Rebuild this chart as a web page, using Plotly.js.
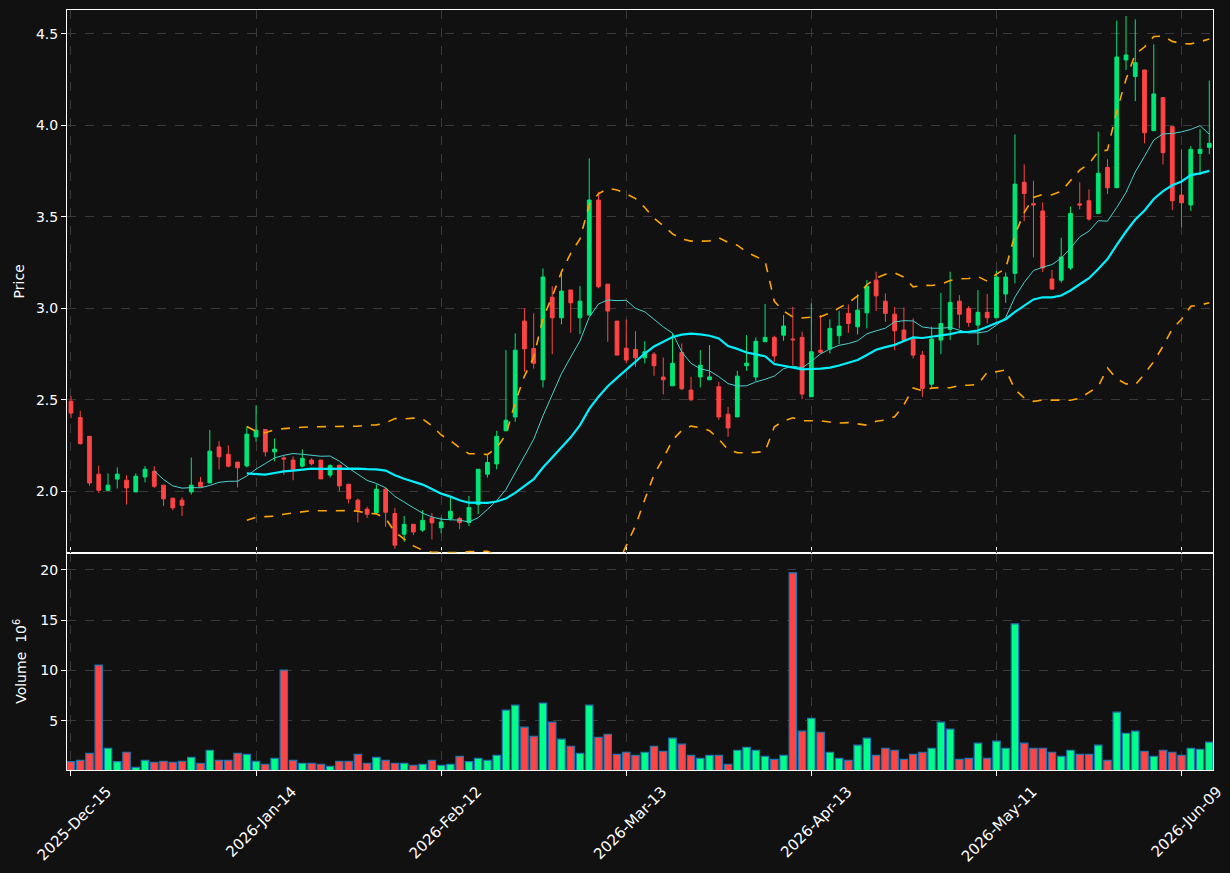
<!DOCTYPE html>
<html>
<head>
<meta charset="utf-8">
<script src="https://cdn.plot.ly/plotly-3.0.1.min.js"></script>
<style>html,body{margin:0;padding:0;background:#111111;}#chart{width:1230px;height:873px;}</style>
</head>
<body>
<div id="chart"></div>
<script>
// ---- trading calendar (categories) ----
const startDate = '2025-12-15';
const nBars = 124;
const holidays = ['2025-12-25','2026-01-01','2026-01-19','2026-02-16','2026-04-03','2026-05-25'];

const open = [2.492,2.403,2.30,2.093,2.005,2.066,2.06,1.996,2.078,2.109,
2.033,1.962,1.951,1.996,2.049,2.045,2.242,2.202,2.159,2.138,
2.297,2.337,2.215,2.182,2.17,2.137,2.17,2.17,2.088,2.142,
2.038,1.951,1.902,1.883,2.011,1.878,1.765,1.819,1.787,1.854,
1.80,1.851,1.851,1.829,1.927,2.093,2.149,2.33,2.406,2.93,
2.78,2.609,3.061,2.948,3.10,2.948,2.963,3.592,3.132,2.93,
2.782,2.775,2.729,2.749,2.624,2.576,2.759,2.553,2.625,2.609,
2.571,2.421,2.406,2.686,2.624,2.817,2.841,2.853,2.832,2.841,
2.516,2.771,2.777,2.85,2.972,2.899,2.975,3.154,3.039,2.968,
2.881,2.832,2.744,2.585,2.826,2.885,3.039,2.999,2.908,2.978,
2.948,3.078,3.191,3.689,3.572,3.532,3.16,3.154,3.22,3.571,
3.588,3.519,3.77,3.659,4.358,4.267,4.303,3.971,4.152,3.993,
3.619,3.565,3.847,3.88];
const high = [2.52,2.44,2.30,2.14,2.097,2.13,2.087,2.097,2.137,2.137,
2.033,1.962,1.966,2.184,2.078,2.334,2.274,2.25,2.159,2.352,
2.47,2.337,2.288,2.195,2.19,2.228,2.18,2.17,2.147,2.142,
2.038,1.96,1.915,2.038,2.02,1.909,1.865,1.819,1.896,1.881,
1.86,1.969,1.86,1.974,2.12,2.197,2.33,2.771,2.863,3.0,
2.972,3.218,3.121,3.194,3.10,3.121,3.82,3.637,3.132,2.93,
2.939,2.875,2.82,2.76,2.731,2.863,2.808,2.625,2.771,2.799,
2.598,2.461,2.658,2.853,2.841,3.023,2.85,2.963,3.008,2.872,
3.027,2.963,2.939,2.986,3.021,3.076,3.154,3.20,3.081,3.008,
3.005,2.945,2.767,2.90,3.085,3.20,3.072,3.012,3.10,3.078,
3.204,3.196,3.951,3.787,3.697,3.579,3.21,3.386,3.556,3.689,
3.65,3.966,3.815,4.573,4.598,4.58,4.303,4.443,4.152,3.993,
3.869,3.887,3.979,4.245];
const low = [2.40,2.255,2.03,1.99,2.005,2.015,1.927,1.996,2.048,2.018,
1.92,1.896,1.865,1.982,2.024,2.045,2.119,2.13,2.02,2.13,
2.27,2.19,2.164,2.09,2.06,2.13,2.14,2.067,2.075,2.0,
1.933,1.829,1.854,1.883,1.805,1.686,1.723,1.76,1.777,1.736,
1.77,1.84,1.792,1.81,1.874,2.075,2.119,2.33,2.38,2.653,
2.67,2.567,2.749,2.912,2.866,2.859,2.963,3.109,2.817,2.744,
2.699,2.68,2.699,2.631,2.529,2.576,2.553,2.492,2.567,2.609,
2.39,2.297,2.406,2.658,2.602,2.817,2.707,2.822,2.689,2.503,
2.516,2.755,2.753,2.804,2.866,2.857,2.89,2.985,2.926,2.771,
2.817,2.726,2.516,2.567,2.749,2.826,2.89,2.899,2.799,2.917,
2.948,3.03,3.136,3.477,3.278,3.198,3.10,3.14,3.21,3.541,
3.479,3.519,3.625,3.659,4.303,4.133,3.902,3.971,3.787,3.537,
3.443,3.532,3.729,3.843];
const close = [2.427,2.26,2.045,2.005,2.033,2.093,2.018,2.082,2.12,2.027,
1.958,1.909,1.923,2.033,2.024,2.219,2.188,2.137,2.128,2.312,
2.334,2.215,2.23,2.176,2.119,2.179,2.15,2.067,2.14,2.029,
1.958,1.896,1.874,2.011,1.885,1.705,1.819,1.777,1.841,1.827,
1.832,1.89,1.829,1.911,2.12,2.157,2.30,2.388,2.771,2.778,
2.699,3.171,2.948,3.094,3.03,3.039,3.592,3.118,2.985,2.744,
2.717,2.729,2.762,2.686,2.609,2.699,2.56,2.50,2.689,2.625,
2.406,2.346,2.629,2.70,2.82,2.841,2.739,2.903,2.828,2.531,
2.762,2.759,2.89,2.903,2.917,2.99,3.121,3.068,2.972,2.877,
2.826,2.744,2.562,2.832,2.917,3.032,2.968,2.923,2.978,2.948,
3.171,3.171,3.679,3.628,3.565,3.22,3.105,3.28,3.519,3.565,
3.488,3.738,3.659,4.374,4.385,4.343,3.96,4.172,3.851,3.588,
3.577,3.869,3.869,3.902];
// volume in millions
const volume = [0.95,1.08,1.78,10.54,2.28,0.95,1.88,0.39,1.08,0.89,
0.99,0.89,0.99,1.38,0.79,2.08,1.08,1.08,1.78,1.68,
0.99,0.69,1.28,10.04,1.08,0.79,0.79,0.69,0.49,0.99,
0.99,1.68,0.79,1.38,1.08,0.79,0.79,0.59,0.69,1.08,
0.59,0.69,1.48,0.95,1.28,1.08,1.58,6.06,6.56,4.37,
3.47,6.76,4.87,3.18,2.48,1.78,6.56,3.37,3.67,1.68,
1.88,1.58,1.88,2.48,1.98,3.28,2.68,1.58,1.28,1.58,
1.58,0.69,2.08,2.38,2.08,1.48,1.18,1.58,19.7,3.97,
5.26,3.87,1.88,1.28,1.08,2.58,3.28,1.58,2.28,2.08,
1.18,1.68,1.88,2.28,4.87,4.17,1.18,1.28,2.78,1.28,
2.98,2.28,14.62,2.78,2.28,2.28,1.88,1.48,2.08,1.68,
1.68,2.58,1.08,5.86,3.77,3.97,1.98,1.48,2.08,1.88,
1.58,2.28,2.18,2.88];

const upColor = '#00e676', downColor = '#ff4444';
const volUp = '#00ff88', volDown = '#ff4444';
const monthNames = ['Jan','Feb','Mar','Apr','May','Jun','Jul','Aug','Sep','Oct','Nov','Dec'];

// build trading dates
function iso(d){return d.toISOString().slice(0,10);}
const dates = [];
{
  let d = new Date(startDate + 'T00:00:00Z');
  while (dates.length < nBars) {
    const wd = d.getUTCDay();
    const s = iso(d);
    if (wd !== 0 && wd !== 6 && holidays.indexOf(s) < 0) dates.push(s);
    d = new Date(d.getTime() + 86400000);
  }
}
function fmt(s){const p=s.split('-');return p[0]+'-'+monthNames[parseInt(p[1],10)-1]+'-'+p[2];}
const tickDates = dates.filter((d,i)=> i % 20 === 0);
const tickLabels = tickDates.map(fmt);

function sma(arr,n){return arr.map((v,i)=>{if(i<n-1)return null;let s=0;for(let k=i-n+1;k<=i;k++)s+=arr[k];return s/n;});}
function bands(arr,n,m){
  const ma = sma(arr,n);
  const up=[],lo=[];
  arr.forEach((v,i)=>{
    if(i<n-1){up.push(null);lo.push(null);return;}
    let s=0;for(let k=i-n+1;k<=i;k++)s+=(arr[k]-ma[i])**2;
    const sd=Math.sqrt(s/n);
    up.push(ma[i]+m*sd);lo.push(ma[i]-m*sd);
  });
  return {up,lo};
}
const ma10 = sma(close,10), ma20 = sma(close,20);
const bb = bands(close,20,2);
const volColors = close.map((c,i)=> c >= open[i] ? volUp : volDown);

const traces = [
  {type:'bar', x:dates, y:volume, xaxis:'x', yaxis:'y', width:0.8,
   marker:{color:volColors, line:{color:'#1f77b4', width:1.2}}, hoverinfo:'skip', showlegend:false},
  {type:'candlestick', x:dates, open:open, high:high, low:low, close:close, xaxis:'x', yaxis:'y2',
   increasing:{line:{color:upColor,width:1}, fillcolor:upColor},
   decreasing:{line:{color:downColor,width:1}, fillcolor:downColor},
   whiskerwidth:0, hoverinfo:'skip', showlegend:false},
  {type:'scatter', mode:'lines', x:dates, y:bb.up, xaxis:'x', yaxis:'y2', line:{color:'#ffa500', width:1.6, dash:'dash'}, hoverinfo:'skip', showlegend:false},
  {type:'scatter', mode:'lines', x:dates, y:bb.lo, xaxis:'x', yaxis:'y2', line:{color:'#ffa500', width:1.6, dash:'dash'}, hoverinfo:'skip', showlegend:false},
  {type:'scatter', mode:'lines', x:dates, y:ma10, xaxis:'x', yaxis:'y2', line:{color:'#48d1cc', width:1}, hoverinfo:'skip', showlegend:false},
  {type:'scatter', mode:'lines', x:dates, y:ma20, xaxis:'x', yaxis:'y2', line:{color:'#00f0ff', width:2.2}, hoverinfo:'skip', showlegend:false}
];

const gridCol = '#3a3a3a';
const font = {family:'DejaVu Sans, sans-serif', size:14, color:'#ffffff'};
const xfont = {family:'DejaVu Sans, sans-serif', size:15, color:'#ffffff'};
const layout = {
  width:1230, height:873,
  paper_bgcolor:'#111111', plot_bgcolor:'#111111',
  font:font,
  margin:{l:67, r:17, t:10, b:103},
  showlegend:false,
  boxgap:0.42,
  bargap:0.1,
  xaxis:{type:'category', anchor:'y', range:[-0.43,123.4], rangeslider:{visible:false},
    tickvals:tickDates, ticktext:tickLabels, tickangle:-45, ticks:'outside', ticklen:5, tickcolor:'#ffffff',
    ticklabelshift:36, ticklabelstandoff:1,
    showgrid:true, gridcolor:gridCol, griddash:'dash', gridwidth:1,
    showline:true, linecolor:'#ffffff', linewidth:1, mirror:'all', zeroline:false, tickfont:xfont},
  yaxis:{domain:[0,0.286], range:[0.12,21.7], tickvals:[5,10,15,20], ticks:'outside', ticklen:5, tickcolor:'#ffffff',
    showgrid:true, gridcolor:gridCol, griddash:'dash', zeroline:false,
    showline:true, linecolor:'#ffffff', linewidth:1, mirror:true,
    title:{text:'Volume  10<sup>6</sup>', font:font, standoff:10}},
  yaxis2:{domain:[0.286,1], range:[1.664,4.631], tickvals:[2.0,2.5,3.0,3.5,4.0,4.5], tickformat:'.1f', ticks:'outside', ticklen:5, tickcolor:'#ffffff',
    showgrid:true, gridcolor:gridCol, griddash:'dash', zeroline:false,
    showline:true, linecolor:'#ffffff', linewidth:1, mirror:true, anchor:'x',
    title:{text:'Price', font:font, standoff:8}}
};
Plotly.newPlot('chart', traces, layout, {displayModeBar:false, staticPlot:true});
</script>
</body>
</html>
